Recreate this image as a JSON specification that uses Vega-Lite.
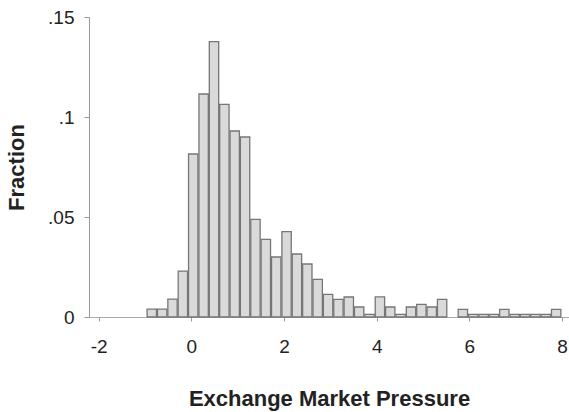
{
  "$schema": "https://vega.github.io/schema/vega-lite/v6.json",
  "width": 480,
  "height": 300,
  "autosize": "none",
  "padding": {"left": 89, "top": 17, "right": 0, "bottom": 95},
  "background": "white",
  "config": {
    "view": {"stroke": null},
    "font": "Liberation Sans",
    "axis": {"grid": false}
  },
  "data": {
    "values": [
      {"bin_start": -0.978, "bin_end": -0.754, "fraction": 0.0039},
      {"bin_start": -0.754, "bin_end": -0.530, "fraction": 0.0039},
      {"bin_start": -0.530, "bin_end": -0.307, "fraction": 0.0089},
      {"bin_start": -0.307, "bin_end": -0.083, "fraction": 0.0229},
      {"bin_start": -0.083, "bin_end": 0.141, "fraction": 0.0815},
      {"bin_start": 0.141, "bin_end": 0.365, "fraction": 0.1115},
      {"bin_start": 0.365, "bin_end": 0.589, "fraction": 0.1377},
      {"bin_start": 0.589, "bin_end": 0.813, "fraction": 0.1063},
      {"bin_start": 0.813, "bin_end": 1.036, "fraction": 0.0930},
      {"bin_start": 1.036, "bin_end": 1.260, "fraction": 0.0900},
      {"bin_start": 1.260, "bin_end": 1.484, "fraction": 0.0488},
      {"bin_start": 1.484, "bin_end": 1.708, "fraction": 0.0388},
      {"bin_start": 1.708, "bin_end": 1.932, "fraction": 0.0300},
      {"bin_start": 1.932, "bin_end": 2.155, "fraction": 0.0427},
      {"bin_start": 2.155, "bin_end": 2.379, "fraction": 0.0315},
      {"bin_start": 2.379, "bin_end": 2.603, "fraction": 0.0265},
      {"bin_start": 2.603, "bin_end": 2.827, "fraction": 0.0188},
      {"bin_start": 2.827, "bin_end": 3.051, "fraction": 0.0113},
      {"bin_start": 3.051, "bin_end": 3.274, "fraction": 0.0088},
      {"bin_start": 3.274, "bin_end": 3.498, "fraction": 0.0100},
      {"bin_start": 3.498, "bin_end": 3.722, "fraction": 0.0050},
      {"bin_start": 3.722, "bin_end": 3.946, "fraction": 0.0013},
      {"bin_start": 3.946, "bin_end": 4.170, "fraction": 0.0101},
      {"bin_start": 4.170, "bin_end": 4.393, "fraction": 0.0050},
      {"bin_start": 4.393, "bin_end": 4.617, "fraction": 0.0013},
      {"bin_start": 4.617, "bin_end": 4.841, "fraction": 0.0050},
      {"bin_start": 4.841, "bin_end": 5.065, "fraction": 0.0063},
      {"bin_start": 5.065, "bin_end": 5.289, "fraction": 0.0050},
      {"bin_start": 5.289, "bin_end": 5.512, "fraction": 0.0088},
      {"bin_start": 5.736, "bin_end": 5.960, "fraction": 0.0038},
      {"bin_start": 5.960, "bin_end": 6.184, "fraction": 0.0013},
      {"bin_start": 6.184, "bin_end": 6.408, "fraction": 0.0013},
      {"bin_start": 6.408, "bin_end": 6.631, "fraction": 0.0013},
      {"bin_start": 6.631, "bin_end": 6.855, "fraction": 0.0038},
      {"bin_start": 6.855, "bin_end": 7.079, "fraction": 0.0013},
      {"bin_start": 7.079, "bin_end": 7.303, "fraction": 0.0013},
      {"bin_start": 7.303, "bin_end": 7.527, "fraction": 0.0013},
      {"bin_start": 7.527, "bin_end": 7.750, "fraction": 0.0013},
      {"bin_start": 7.750, "bin_end": 7.974, "fraction": 0.0038}
    ]
  },
  "mark": {"type": "bar", "fill": "#dadada", "stroke": "#767676", "strokeWidth": 1.3},
  "encoding": {
    "x": {
      "field": "bin_start",
      "type": "quantitative",
      "bin": "binned",
      "scale": {"domain": [-2.21, 8.15], "nice": false, "zero": false},
      "axis": {
        "title": "Exchange Market Pressure",
        "values": [-2, 0, 2, 4, 6, 8],
        "labelExpr": "toString(datum.value)",
        "labelFontSize": 19,
        "labelColor": "#222",
        "labelPadding": 16,
        "tickSize": 4,
        "tickColor": "#999",
        "domainColor": "#aaa",
        "titleFontSize": 22,
        "titleFontWeight": "bold",
        "titleColor": "#222",
        "titlePadding": 32
      }
    },
    "x2": {"field": "bin_end"},
    "y": {
      "field": "fraction",
      "type": "quantitative",
      "scale": {"domain": [0, 0.15], "nice": false},
      "axis": {
        "title": "Fraction",
        "values": [0, 0.05, 0.1, 0.15],
        "labelExpr": "replace(toString(datum.value), '0.', '.')",
        "labelFontSize": 19,
        "labelColor": "#222",
        "labelPadding": 10,
        "tickSize": 5,
        "tickColor": "#999",
        "domainColor": "#999",
        "titleFontSize": 22,
        "titleFontWeight": "bold",
        "titleColor": "#222",
        "titlePadding": 19
      }
    }
  }
}
